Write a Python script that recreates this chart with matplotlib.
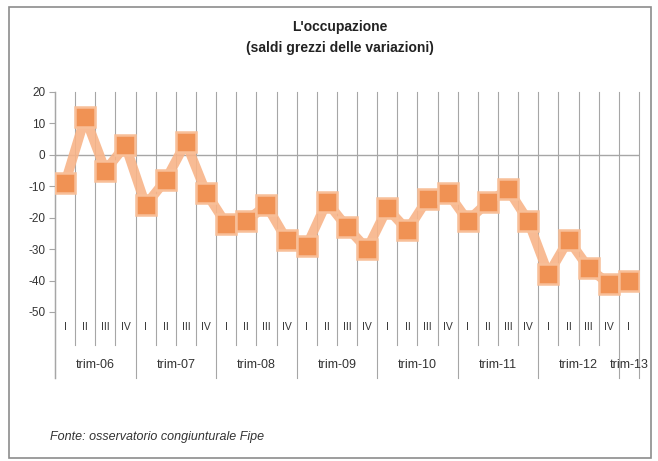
import matplotlib
matplotlib.use("Agg")
import matplotlib.pyplot as plt
import matplotlib.transforms as mtransforms
from matplotlib.patches import Rectangle

# Data
years = ["trim-06", "trim-07", "trim-08", "trim-09", "trim-10", "trim-11", "trim-12", "trim-13"]
quarters_per_year = [4, 4, 4, 4, 4, 4, 4, 1]
quarter_names = ["I", "II", "III", "IV"]
values = [-9, 12, -5, 3,
          -16, -8, 4, -12,
          -22, -21, -16, -27,
          -29, -15, -23, -30,
          -17, -24, -14, -12,
          -21, -15, -11, -21,
          -38, -27, -36, -41,
          -40]
yticks = [20, 10, 0, -10, -20, -30, -40, -50]

GRID = "#a6a6a6"
TXT = "#333333"
plt.rcParams["font.family"] = ["Liberation Sans", "DejaVu Sans"]

fig = plt.figure(figsize=(6.58, 4.61), dpi=100)
fig.patch.set_facecolor("white")

# chart border
fig.patches.append(Rectangle((9 / 658, 3 / 461), 642 / 658, 451 / 461,
                             transform=fig.transFigure, fill=False,
                             edgecolor="#8c8c8c", linewidth=1.2))

ax = fig.add_axes([55 / 658, 1 - 312 / 461, 584 / 658, 220 / 461])
n = len(values)
xs = [i + 0.5 for i in range(n)]
ax.set_xlim(0, n)
ax.set_ylim(-50, 20)

for s in ax.spines.values():
    s.set_visible(False)

trans = mtransforms.blended_transform_factory(ax.transData, ax.transAxes)

# vertical lines: gridlines plus category separators below the axis
year_edges = [0]
for q in quarters_per_year:
    year_edges.append(year_edges[-1] + q)
for k in range(n + 1):
    low = -0.30 if k in year_edges else -0.15
    ax.plot([k, k], [low, 1], transform=trans, color=GRID, lw=0.8,
            clip_on=False, zorder=1)

# y axis line
ax.plot([0, 0], [-0.30, 1], transform=trans, color=GRID, lw=1.0,
        clip_on=False, zorder=1)
ax.axhline(0, color=GRID, lw=1.0, zorder=1)

ax.set_xticks([])
ax.set_yticks(yticks)
ax.set_yticklabels([str(v) for v in yticks], fontsize=8.5, color=TXT)
ax.tick_params(axis="y", length=4, color=GRID, pad=3)

# quarter and year labels
idx = 0
for y_name, q in zip(years, quarters_per_year):
    for j in range(q):
        ax.text(idx + j + 0.5, -0.068, quarter_names[j], transform=trans,
                ha="center", va="center", fontsize=7.5, color=TXT)
    ax.text(idx + q / 2, -0.24, y_name, transform=trans,
            ha="center", va="center", fontsize=9, color=TXT)
    idx += q

ax.plot(xs, values, color="#f8b488", lw=7, zorder=3,
        solid_joinstyle="round", alpha=0.9)
ax.plot(xs, values, linestyle="none", marker="s", markersize=14,
        markerfacecolor="#f09254", markeredgecolor="#f8bf98",
        markeredgewidth=1.8, zorder=4)

fig.text(340 / 658, 1 - 27 / 461, "L'occupazione", ha="center", va="center",
         fontsize=10, fontweight="bold", color="#222222")
fig.text(340 / 658, 1 - 48 / 461, "(saldi grezzi delle variazioni)",
         ha="center", va="center", fontsize=10, fontweight="bold",
         color="#222222")
fig.text(50 / 658, 1 - 437 / 461, "Fonte: osservatorio congiunturale Fipe",
         ha="left", va="center", fontsize=9, style="italic", color=TXT)

fig.savefig("out.png", dpi=100, facecolor="white")
